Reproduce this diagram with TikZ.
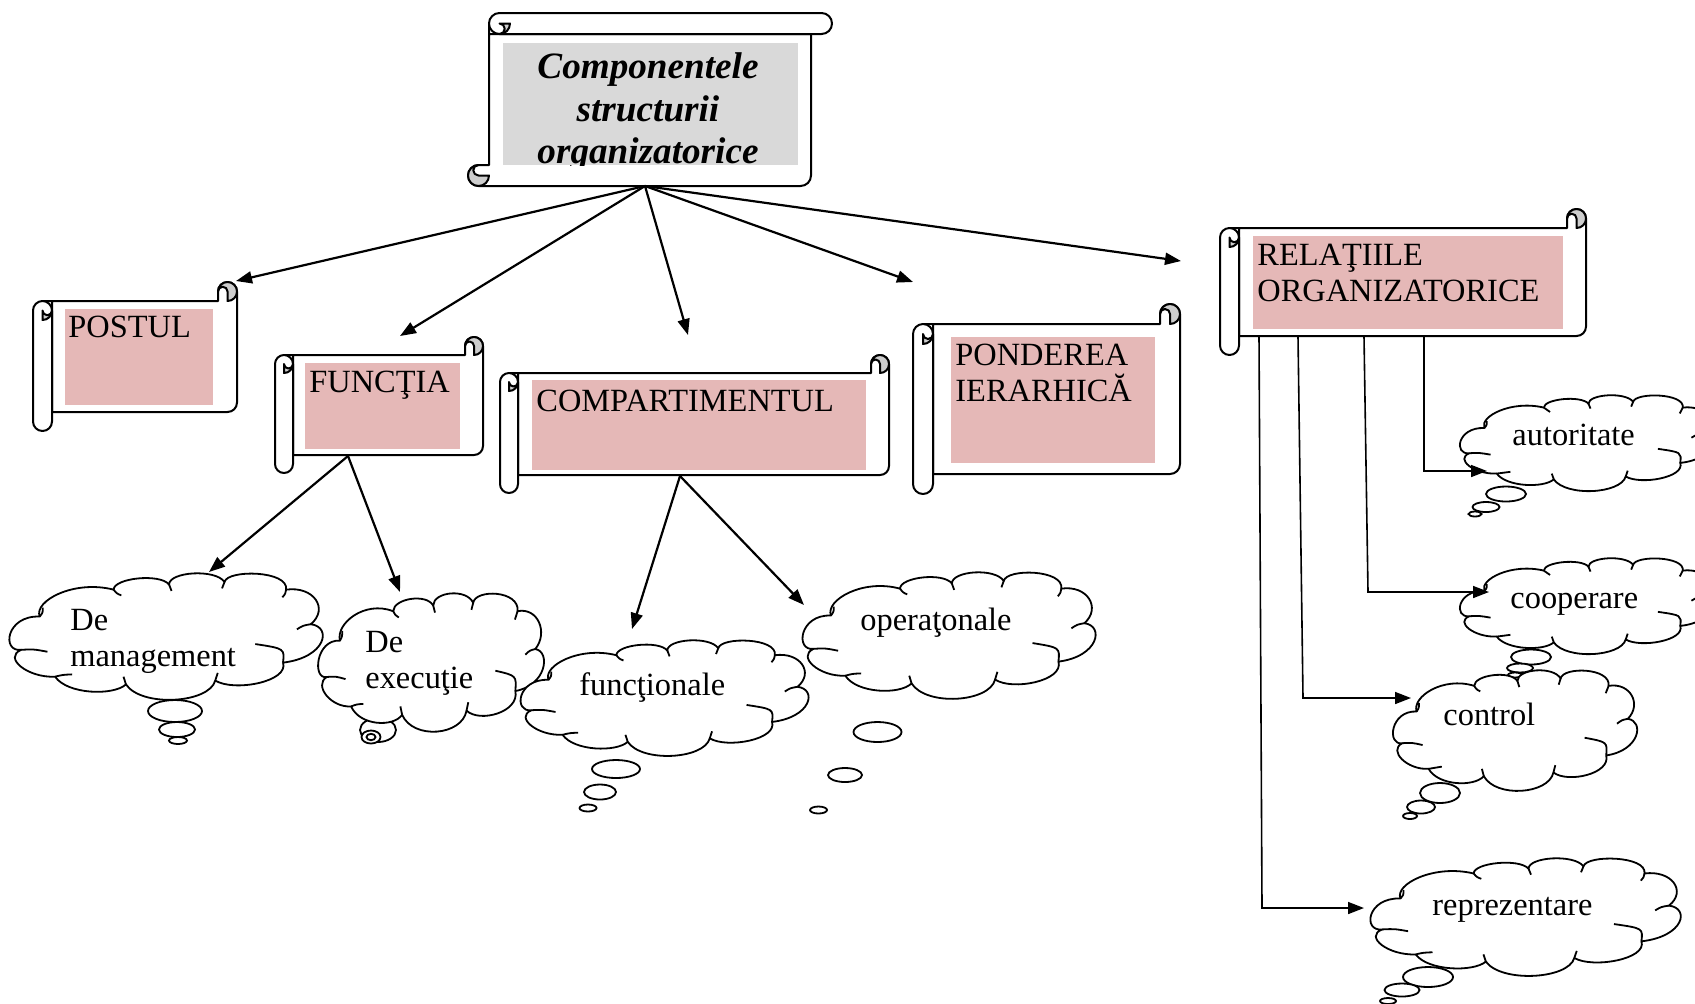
\documentclass[tikz,border=0pt]{standalone}
\usepackage{fontspec}
\setmainfont{Liberation Serif}
\usetikzlibrary{arrows.meta}
\definecolor{rosefill}{RGB}{229,184,183}
\definecolor{titlegrey}{RGB}{217,217,217}
\definecolor{curlgrey}{RGB}{205,205,205}
\tikzset{
  outl/.style={draw=black,line width=1pt,line join=round},
  conn/.style={draw=black,line width=1.1pt,-{Triangle[length=8pt,width=6pt]}},
  rconn/.style={draw=black,line width=0.8pt,-{Triangle[length=8pt,width=6pt]}},
  lbl/.style={font=\fontsize{16.2}{19}\selectfont,inner sep=0pt,anchor=base west},
  ttl/.style={font=\fontsize{18.6}{21.5}\selectfont\bfseries\itshape,inner sep=0pt,anchor=base},
  cloudline/.style={draw=black,line width=0.9pt,line join=round},
  bubble/.style={draw=black,line width=0.9pt,fill=white},
}
\newcommand{\myscroll}[3]{%
  \pgfmathsetmacro{\scW}{#1}%
  \pgfmathsetmacro{\scH}{#2}%
  \pgfmathsetmacro{\scC}{#3}%
  \pgfmathsetmacro{\scR}{#3/2}%
  \pgfmathsetmacro{\scQ}{#3/4}%
  \path[outl,fill=white] (\scR,\scC) -- ({\scW-\scC},\scC) -- ({\scW-\scC},\scR)
     arc[start angle=180,end angle=360,radius=\scR] -- (\scW,{\scH-\scC-\scR})
     arc[start angle=0,end angle=90,radius=\scR] -- (\scC,{\scH-\scC}) -- (\scC,\scC) -- cycle;
  \path[outl,fill=curlgrey] ({\scW-\scR},\scC) arc[start angle=90,end angle=-180,radius=\scR]
     arc[start angle=180,end angle=360,radius=\scQ] -- cycle;
  \path[outl,fill=white] (0,{\scC+\scR}) arc[start angle=180,end angle=360,radius=\scR]
     -- (\scC,{\scH-\scR}) arc[start angle=0,end angle=180,radius=\scR] -- cycle;
  \path[outl,fill=curlgrey] (\scR,{2*\scC}) arc[start angle=90,end angle=0,radius=\scR]
     arc[start angle=0,end angle=180,radius=\scQ] -- cycle;
}
% Word-like cloud in a unit box, placed at (#1,#2) with size #3 x #4
\newcommand{\wcloud}[4]{%
\begin{scope}[shift={(#1,#2)},xscale=#3,yscale=#4]
\path[cloudline,fill=white] (0.030,0.600)
 .. controls (-0.035,0.62) and (-0.02,0.33) .. (0.090,0.340)
 .. controls (0.07,0.22) and (0.20,0.05) .. (0.330,0.130)
 .. controls (0.33,0.04) and (0.48,0.00) .. (0.510,0.090)
 .. controls (0.51,-0.01) and (0.66,-0.035) .. (0.690,0.070)
 .. controls (0.70,-0.03) and (0.90,-0.02) .. (0.890,0.130)
 .. controls (0.98,0.10) and (1.03,0.28) .. (0.970,0.400)
 .. controls (1.04,0.42) and (1.02,0.66) .. (0.880,0.700)
 .. controls (0.90,0.85) and (0.72,0.93) .. (0.660,0.840)
 .. controls (0.64,1.02) and (0.42,1.05) .. (0.370,0.870)
 .. controls (0.33,0.96) and (0.18,0.95) .. (0.140,0.810)
 .. controls (0.05,0.82) and (-0.03,0.66) .. (0.030,0.600) -- cycle;
\draw[cloudline] (0.030,0.600) .. controls (0.07,0.595) .. (0.115,0.615);
\draw[cloudline] (0.090,0.340) .. controls (0.100,0.310) .. (0.100,0.270);
\draw[cloudline] (0.330,0.130) .. controls (0.340,0.160) .. (0.355,0.175);
\draw[cloudline] (0.510,0.090) .. controls (0.512,0.115) .. (0.518,0.140);
\draw[cloudline] (0.690,0.070) .. controls (0.688,0.095) .. (0.682,0.120);
\draw[cloudline] (0.890,0.130) .. controls (0.888,0.160) .. (0.878,0.190);
\draw[cloudline] (0.970,0.400) .. controls (0.945,0.410) .. (0.925,0.440);
\draw[cloudline] (0.880,0.700) .. controls (0.885,0.590) .. (0.790,0.555);
\draw[cloudline] (0.660,0.840) .. controls (0.662,0.810) .. (0.668,0.780);
\draw[cloudline] (0.370,0.870) .. controls (0.368,0.840) .. (0.362,0.810);
\draw[cloudline] (0.140,0.810) .. controls (0.165,0.795) .. (0.195,0.792);
\end{scope}}
\begin{document}
\begin{tikzpicture}[x=0.5pt,y=0.5pt,yscale=-1]
\useasboundingbox (0,0) rectangle (1695,1003);
% ---------- scrolls
\begin{scope}[shift={(468,13)}]\begin{scope}[cm={0,1,1,0,(0,0)}]\myscroll{173}{364}{21}\end{scope}\end{scope}
\begin{scope}[shift={(33,282)}]\myscroll{204}{149}{19}\end{scope}
\begin{scope}[shift={(275,337)}]\myscroll{208}{136}{18}\end{scope}
\begin{scope}[shift={(500,355)}]\myscroll{389}{138}{18}\end{scope}
\begin{scope}[shift={(913,304)}]\myscroll{267}{190}{20}\end{scope}
\begin{scope}[shift={(1220,209)}]\myscroll{366}{146}{19}\end{scope}
% ---------- title
\begin{scope}
\clip (503,43) rectangle (798,165);
\fill[titlegrey] (503,43) rectangle (798,165);
\node[ttl] (title1) at (648,78) {Componentele};
\node[ttl] (title2) at (648,121) {structurii};
\node[ttl] (title3) at (648,163) {organizatorice};
\end{scope}
% ---------- labels
\fill[rosefill] (65,309) rectangle (213,405);
\node[lbl] (postul) at (68,337) {POSTUL};
\fill[rosefill] (305,363) rectangle (460,449);
\node[lbl] (functia) at (309,392) {FUNCŢIA};
\fill[rosefill] (532,380) rectangle (866,470);
\node[lbl] (compart) at (536,411) {COMPARTIMENTUL};
\fill[rosefill] (951,337) rectangle (1155,463);
\node[lbl] (ponder1) at (955,365) {PONDEREA};
\node[lbl] (ponder2) at (955,401) {IERARHICĂ};
\fill[rosefill] (1253,236) rectangle (1563,329);
\node[lbl] (relat1) at (1257,265) {RELAŢIILE};
\node[lbl] (relat2) at (1257,301) {ORGANIZATORICE};
% ---------- bubbles
\draw[bubble] (175,711) ellipse[x radius=27,y radius=11];
\draw[bubble] (177,729.5) ellipse[x radius=18,y radius=7.5];
\draw[bubble] (178,740.5) ellipse[x radius=9,y radius=3.5];
\draw[bubble] (378,730) ellipse[x radius=18,y radius=12];
\draw[bubble] (371,737) ellipse[x radius=9.5,y radius=6.5];
\draw[bubble] (371,737) ellipse[x radius=4.5,y radius=3.2];
\draw[bubble] (616,769) ellipse[x radius=24,y radius=9];
\draw[bubble] (600,792) ellipse[x radius=16,y radius=7.5];
\draw[bubble] (588,808) ellipse[x radius=8.5,y radius=3.5];
\draw[bubble] (877.5,732) ellipse[x radius=24,y radius=10];
\draw[bubble] (845,775) ellipse[x radius=17,y radius=7];
\draw[bubble] (818.5,810) ellipse[x radius=8.5,y radius=3.5];
\draw[bubble] (1506,494) ellipse[x radius=20,y radius=7.5];
\draw[bubble] (1486,507) ellipse[x radius=13.5,y radius=5];
\draw[bubble] (1475,514) ellipse[x radius=6.5,y radius=2.5];
\draw[bubble] (1531,657) ellipse[x radius=20,y radius=7.5];
\draw[bubble] (1520,668) ellipse[x radius=13,y radius=4.5];
\draw[bubble] (1515,675) ellipse[x radius=7,y radius=2.5];
\draw[bubble] (1440,793) ellipse[x radius=20,y radius=10];
\draw[bubble] (1421,807) ellipse[x radius=14,y radius=6.5];
\draw[bubble] (1410,816) ellipse[x radius=7,y radius=3];
\draw[bubble] (1428,977) ellipse[x radius=25,y radius=10];
\draw[bubble] (1402,990) ellipse[x radius=17.5,y radius=6.5];
\draw[bubble] (1388,1001) ellipse[x radius=8,y radius=3];
% ---------- clouds
\wcloud{12}{573}{308}{128}
\wcloud{320}{593}{222}{140}
\wcloud{523}{640}{283}{117}
\wcloud{805}{572}{288}{128}
\wcloud{1462}{395}{248}{97}
\wcloud{1462}{558}{248}{97}
\wcloud{1395}{670}{240}{122}
\wcloud{1373}{858}{305}{119}
% ---------- cloud texts
\node[lbl] (tx1) at (70,630) {De};
\node[lbl] (tx2) at (70,666) {management};
\node[lbl] (tx3) at (365,652) {De};
\node[lbl] (tx4) at (365,688) {execuţie};
\node[lbl] (tx5) at (579,695) {funcţionale};
\node[lbl] (tx6) at (860,630) {operaţonale};
\node[lbl] (tx7) at (1512,445) {autoritate};
\node[lbl] (tx8) at (1510,608) {cooperare};
\node[lbl] (tx9) at (1443,725) {control};
\node[lbl] (tx10) at (1432,915) {reprezentare};
% ---------- connectors
\coordinate (tb) at (645,186);
\coordinate (tpostul) at (236,281);
\coordinate (tfunctia) at (400,336);
\coordinate (tcompart) at (688,335);
\coordinate (tponder) at (913,282);
\coordinate (trelat) at (1181,261);
\draw[conn] (tb) -- (tpostul);
\draw[conn] (tb) -- (tfunctia);
\draw[conn] (tb) -- (tcompart);
\draw[conn] (tb) -- (tponder);
\draw[conn] (tb) -- (trelat);
\coordinate (fb) at (348,456);
\coordinate (tmgmt) at (209,572);
\coordinate (texec) at (400,592);
\draw[conn] (fb) -- (tmgmt);
\draw[conn] (fb) -- (texec);
\coordinate (cb) at (680,476);
\coordinate (tfunc) at (632,629);
\coordinate (toper) at (804,605);
\draw[conn] (cb) -- (tfunc);
\draw[conn] (cb) -- (toper);
\coordinate (r1) at (1424,337); \coordinate (r1b) at (1424,471); \coordinate (tauto) at (1487,471);
\coordinate (r2) at (1364,337); \coordinate (r2b) at (1368,592); \coordinate (tcoop) at (1489,592);
\coordinate (r3) at (1298,337); \coordinate (r3b) at (1303,698); \coordinate (tctrl) at (1411,698);
\coordinate (r4) at (1259,337); \coordinate (r4b) at (1262,908); \coordinate (trepr) at (1364,908);
\draw[rconn] (r1) -- (r1b) -- (tauto);
\draw[rconn] (r2) -- (r2b) -- (tcoop);
\draw[rconn] (r3) -- (r3b) -- (tctrl);
\draw[rconn] (r4) -- (r4b) -- (trepr);
\end{tikzpicture}
\end{document}
